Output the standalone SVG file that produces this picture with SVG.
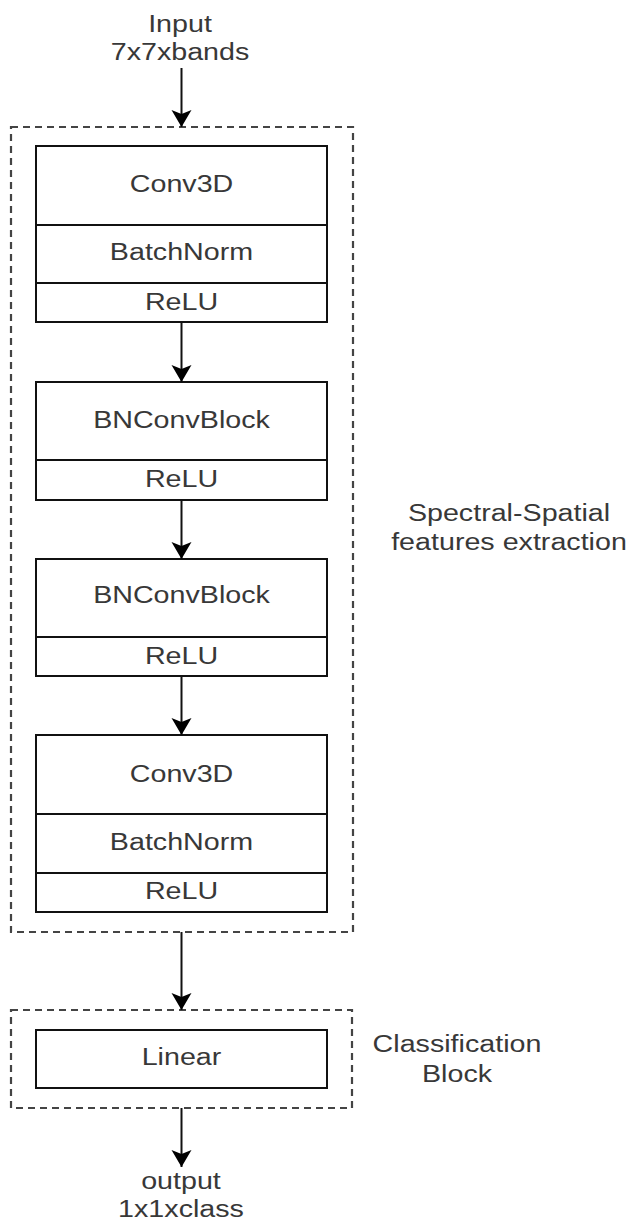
<svg xmlns="http://www.w3.org/2000/svg" width="630" height="1220" viewBox="0 0 630 1220">
<style>
text{font-family:"Liberation Sans",Arial,Helvetica,sans-serif;font-size:23.3px;fill:#383838;text-anchor:middle}
.box{fill:#fff;stroke:#111;stroke-width:2}
.div{stroke:#111;stroke-width:2;fill:none}
.group{fill:none;stroke:#444;stroke-width:2.2;stroke-dasharray:7 5}
.conn{stroke:#111;stroke-width:2;fill:none;marker-end:url(#arr)}
</style>
<defs>
<marker id="arr" markerUnits="userSpaceOnUse" markerWidth="22" markerHeight="22" viewBox="-19 -11 20 22" refX="0" refY="0" orient="auto">
<path d="M0,0 L-17,-10 L-13,0 L-17,10 Z" fill="#000"/>
</marker>
</defs>
<rect width="630" height="1220" fill="#fff"/>

<g id="feature-group">
<rect class="group" x="11" y="127" width="342" height="805"/>
<text transform="translate(509,521) scale(1.23,1)">Spectral-Spatial</text>
<text transform="translate(509,550) scale(1.23,1)">features extraction</text>
</g>

<g id="class-group">
<rect class="group" x="11" y="1010" width="341" height="98"/>
<text transform="translate(457,1052) scale(1.23,1)">Classification</text>
<text transform="translate(457,1082) scale(1.23,1)">Block</text>
</g>

<g id="input">
<text transform="translate(180,32) scale(1.23,1)">Input</text>
<text transform="translate(180,60) scale(1.23,1)">7x7xbands</text>
</g>

<g id="block1">
<rect class="box" x="36" y="146" width="291" height="176"/>
<line class="div" x1="36" y1="225" x2="327" y2="225"/>
<line class="div" x1="36" y1="283" x2="327" y2="283"/>
<text transform="translate(181.5,192) scale(1.23,1)">Conv3D</text>
<text transform="translate(181.5,260) scale(1.23,1)">BatchNorm</text>
<text transform="translate(181.5,310) scale(1.23,1)">ReLU</text>
</g>

<g id="block2">
<rect class="box" x="36" y="382" width="291" height="118"/>
<line class="div" x1="36" y1="460" x2="327" y2="460"/>
<text transform="translate(181.5,428) scale(1.23,1)">BNConvBlock</text>
<text transform="translate(181.5,487) scale(1.23,1)">ReLU</text>
</g>

<g id="block3">
<rect class="box" x="36" y="559" width="291" height="117"/>
<line class="div" x1="36" y1="637" x2="327" y2="637"/>
<text transform="translate(181.5,603) scale(1.23,1)">BNConvBlock</text>
<text transform="translate(181.5,664) scale(1.23,1)">ReLU</text>
</g>

<g id="block4">
<rect class="box" x="36" y="735" width="291" height="177"/>
<line class="div" x1="36" y1="814" x2="327" y2="814"/>
<line class="div" x1="36" y1="873" x2="327" y2="873"/>
<text transform="translate(181.5,782) scale(1.23,1)">Conv3D</text>
<text transform="translate(181.5,850) scale(1.23,1)">BatchNorm</text>
<text transform="translate(181.5,899) scale(1.23,1)">ReLU</text>
</g>

<g id="linear">
<rect class="box" x="36" y="1030" width="291" height="58"/>
<text transform="translate(181.5,1065) scale(1.23,1)">Linear</text>
</g>

<g id="output">
<text transform="translate(181,1189) scale(1.23,1)">output</text>
<text transform="translate(181,1217) scale(1.23,1)">1x1xclass</text>
</g>

<g id="connectors">
<line class="conn" x1="181.5" y1="68" x2="181.5" y2="127"/>
<line class="conn" x1="181.5" y1="322" x2="181.5" y2="382"/>
<line class="conn" x1="181.5" y1="500" x2="181.5" y2="559"/>
<line class="conn" x1="181.5" y1="676" x2="181.5" y2="735"/>
<line class="conn" x1="181.5" y1="932" x2="181.5" y2="1010"/>
<line class="conn" x1="181.5" y1="1108" x2="181.5" y2="1167"/>
</g>
</svg>
